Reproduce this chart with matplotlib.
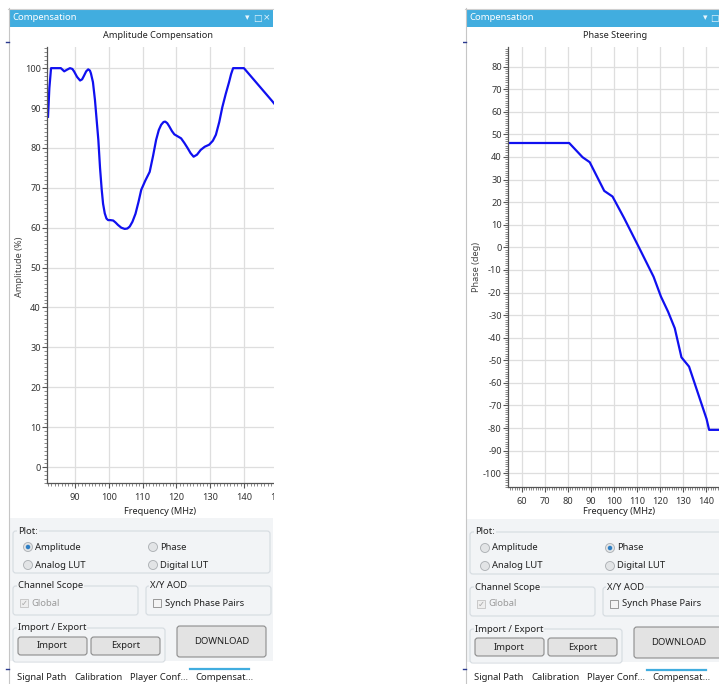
import numpy as np
import matplotlib.pyplot as plt
from matplotlib.patches import Rectangle, FancyBboxPatch, Ellipse
from matplotlib.lines import Line2D
from matplotlib.ticker import MultipleLocator, FixedLocator

plt.rcParams['font.family'] = ['Noto Sans', 'DejaVu Sans']

# amplitude compensation curve (MHz, %)
amp_freq = [82.0, 82.4, 82.9, 85.8, 86.3, 86.8, 87.6, 88.5, 89.2, 89.7, 90.6, 91.5,
            92.1, 92.6, 93.3, 93.9, 94.4, 94.7, 95.3, 95.9, 96.4, 96.9, 97.4, 97.9,
            98.3, 98.8, 99.3, 99.8, 100.5, 101.3, 102.0, 102.7, 103.7, 104.7, 105.5,
            106.2, 107.0, 107.9, 108.8, 109.6, 110.8, 112.1, 113.1, 114.0, 114.8,
            115.5, 116.2, 116.7, 117.3, 117.9, 118.7, 119.4, 120.4, 121.4, 122.4,
            123.3, 124.2, 125.1, 126.1, 127.2, 128.4, 129.7, 130.8, 131.7, 132.7,
            133.6, 134.6, 135.6, 136.2, 136.8, 140.0, 148.3, 152.0]
amp_val = [87.8, 95.0, 100.0, 100.0, 99.6, 99.2, 99.6, 100.0, 99.8, 99.2, 97.8, 96.9,
           97.2, 98.0, 99.2, 99.7, 99.4, 98.7, 96.5, 92.0, 87.0, 82.0, 75.0, 69.5,
           66.0, 63.6, 62.3, 61.9, 61.9, 61.8, 61.3, 60.7, 60.0, 59.7, 59.8,
           60.3, 61.5, 63.5, 66.5, 69.5, 71.8, 74.0, 78.0, 82.0, 84.5,
           85.8, 86.5, 86.6, 86.2, 85.4, 84.2, 83.4, 82.9, 82.4, 81.2,
           80.0, 78.7, 77.8, 78.3, 79.5, 80.3, 80.8, 81.8, 83.3, 86.5,
           90.2, 93.5, 96.5, 98.5, 100.0, 100.0, 91.8, 88.0]

# phase steering curve (MHz, deg)
ph_freq = [50.0, 80.6, 86.4, 89.5, 95.8, 99.4, 104.4, 110.9, 117.2, 120.4, 123.5,
           126.4, 129.3, 132.6, 140.2, 141.3, 160.0]
ph_val = [46.2, 46.2, 39.9, 37.7, 25.0, 22.5, 13.0, -0.1, -13.0, -21.8, -28.5,
          -35.8, -48.7, -52.8, -76.0, -80.8, -80.8]

amp_xticks = [90, 100, 110, 120, 130, 140, 150]
ph_xticks = [60, 70, 80, 90, 100, 110, 120, 130, 140]

W, H = 719, 684
fig = plt.figure(figsize=(W / 100, H / 100), dpi=100)
fig.patch.set_facecolor('white')

def fx(x): return x / W
def fy(y): return 1 - y / H

def rect(x0, y0, x1, y1, z=-1, **kw):
    fig.add_artist(Rectangle((fx(x0), fy(y1)), (x1 - x0) / W, (y1 - y0) / H,
                             transform=fig.transFigure, zorder=z, **kw))

def rbox(x0, y0, x1, y1, z=1, **kw):
    fig.add_artist(FancyBboxPatch((fx(x0), fy(y1)), (x1 - x0) / W, (y1 - y0) / H,
                                  boxstyle='round,pad=0,rounding_size=0.004',
                                  transform=fig.transFigure, zorder=z, **kw))

def line(xs, ys, z=2, **kw):
    fig.add_artist(Line2D([fx(x) for x in xs], [fy(y) for y in ys],
                          transform=fig.transFigure, zorder=z, **kw))

def txt(x, y, s, **kw):
    kw.setdefault('fontsize', 6.8)
    kw.setdefault('color', '#222222')
    kw.setdefault('va', 'center')
    fig.text(fx(x), fy(y), s, zorder=3, **kw)

BLUE = '#41addf'
BG = '#f2f4f6'
GRP = '#d5dbe0'

def panel(dx, dy, right, selected):
    # title bar + frame
    rect(dx + 10, 9, right, 27, facecolor=BLUE)
    line([dx + 8, right], [8.5, 8.5], color='#cfcfcf', lw=0.8)
    line([dx + 9, dx + 9], [8, 684], color='#c6c6c6', lw=0.8)
    line([dx + 6, dx + 9], [42, 42], color='#2b3a8f', lw=1)
    line([dx + 6, dx + 9], [669, 669], color='#2b3a8f', lw=1)
    txt(dx + 12, 18, 'Compensation', color='white', fontsize=6.8)
    # controls area
    rect(dx + 10, 518 + dy, right, 661 + dy, facecolor=BG)
    rbox(dx + 13, 531 + dy, dx + 270, 573 + dy, facecolor='none', edgecolor=GRP, lw=0.8)
    rbox(dx + 13, 586 + dy, dx + 138, 615 + dy, facecolor='none', edgecolor=GRP, lw=0.8)
    rbox(dx + 146, 586 + dy, dx + 271, 615 + dy, facecolor='none', edgecolor=GRP, lw=0.8)
    rbox(dx + 13, 628 + dy, dx + 165, 662 + dy, facecolor='none', edgecolor=GRP, lw=0.8)
    lab = dict(bbox=dict(facecolor=BG, edgecolor='none', pad=0.6))
    txt(dx + 18, 531 + dy, 'Plot:', **lab)
    txt(dx + 18, 586 + dy, 'Channel Scope', **lab)
    txt(dx + 150, 586 + dy, 'X/Y AOD', **lab)
    txt(dx + 18, 628 + dy, 'Import / Export', **lab)
    radios = [(28, 547, 'Amplitude'), (28, 565, 'Analog LUT'),
              (153, 547, 'Phase'), (153, 565, 'Digital LUT')]
    for rx, ry, name in radios:
        fig.add_artist(Ellipse((fx(dx + rx), fy(ry + dy)), 9 / W, 9 / H,
                               transform=fig.transFigure, facecolor='#e2e4e6',
                               edgecolor='#a9adb1', lw=0.6, zorder=2))
        if name == selected:
            fig.add_artist(Ellipse((fx(dx + rx), fy(ry + dy)), 4.5 / W, 4.5 / H,
                                   transform=fig.transFigure, facecolor='#2f7fc4',
                                   edgecolor='none', zorder=3))
        txt(dx + rx + 7, ry + dy, name)
    # check boxes
    rect(dx + 20, 599 + dy, dx + 28, 607 + dy, z=2, facecolor='#eeeeee', edgecolor='#c2c2c2', lw=0.6)
    txt(dx + 24, 603 + dy, '\u2713', ha='center', color='#a8a8a8', fontsize=6,
        family=['DejaVu Sans'])
    txt(dx + 31, 603 + dy, 'Global', color='#9a9a9a')
    rect(dx + 153, 599 + dy, dx + 161, 607 + dy, z=2, facecolor='#f4f4f4', edgecolor='#8a8a8a', lw=0.6)
    txt(dx + 165, 603 + dy, 'Synch Phase Pairs')
    # buttons
    for x0, x1, y0, y1, name in [(18, 87, 637, 655, 'Import'), (91, 160, 637, 655, 'Export'),
                                 (177, 266, 626, 657, 'DOWNLOAD')]:
        rbox(dx + x0, y0 + dy, dx + x1, y1 + dy, z=2, facecolor='#e3e3e3',
             edgecolor='#8c8c8c', lw=0.8)
        txt(dx + (x0 + x1) / 2, (y0 + y1) / 2 + dy, name, ha='center')
    # tabs
    for tx, name in [(17, 'Signal Path'), (74, 'Calibration'),
                     (130, 'Player Conf...'), (195, 'Compensat...')]:
        txt(dx + tx, 677 + dy, name)
    line([dx + 190, dx + 249], [669 + dy, 669 + dy], color=BLUE, lw=1.6)

panel(0, 0, 273, 'Amplitude')
panel(457, 1, 740, 'Phase')

# title bar icons
for x, s in [(247, '\u25be'), (257, '\u25a1'), (267, '\u00d7'), (705, '\u25be'), (714, '\u25a1')]:
    txt(x, 18, s, ha='center', color='#e8f5fc', fontsize=6.5, family=['DejaVu Sans'])

def style(ax, xlim, ylim, xticks):
    ax.set_xlim(*xlim)
    ax.set_ylim(*ylim)
    ax.xaxis.set_major_locator(FixedLocator(xticks))
    ax.xaxis.set_minor_locator(MultipleLocator(1))
    ax.yaxis.set_major_locator(MultipleLocator(10))
    ax.yaxis.set_minor_locator(MultipleLocator(1))
    for s in ['top', 'right']:
        ax.spines[s].set_visible(False)
    for s in ['left', 'bottom']:
        ax.spines[s].set_color('#555555')
        ax.spines[s].set_linewidth(0.9)
    ax.grid(True, which='major', color='#dedede', lw=0.9)
    ax.set_axisbelow(True)
    ax.tick_params(which='major', length=3.5, width=0.8, color='#555555',
                   labelsize=6.6, labelcolor='#333333')
    ax.tick_params(which='minor', length=2, width=0.6, color='#777777')
    ax.tick_params(axis='y', pad=1)
    ax.tick_params(axis='x', pad=3.5)
    ax.yaxis.set_major_formatter(plt.FuncFormatter(lambda v, p: '%d' % v))

# left chart
ax1 = fig.add_axes([fx(47), fy(483), (300 - 47) / W, (483 - 47) / H])
ax1.plot(amp_freq, amp_val, color='#1010f0', lw=1.6)
style(ax1, (81.7, 156.6), (-4.0, 105.3), amp_xticks)

# right chart
ax2 = fig.add_axes([fx(508), fy(487), (740 - 508) / W, (487 - 47) / H])
ax2.plot(ph_freq, ph_val, color='#1010f0', lw=1.6)
style(ax2, (54.05, 154.7), (-106.1, 88.7), ph_xticks)

# cover the part of the left chart that the panel clips
rect(273.5, 40, 463, 505, z=5, facecolor='white', edgecolor='none')

txt(158, 35, 'Amplitude Compensation', ha='center', fontsize=6.6)
txt(615, 35, 'Phase Steering', ha='center', fontsize=6.6)
txt(160, 511, 'Frequency (MHz)', ha='center', fontsize=6.6)
txt(619, 512, 'Frequency (MHz)', ha='center', fontsize=6.6)
txt(20, 267, 'Amplitude (%)', ha='center', rotation=90, fontsize=6.6, color='#444444')
txt(477, 267, 'Phase (deg)', ha='center', rotation=90, fontsize=6.6, color='#444444')

fig.savefig('out.png', dpi=100)
